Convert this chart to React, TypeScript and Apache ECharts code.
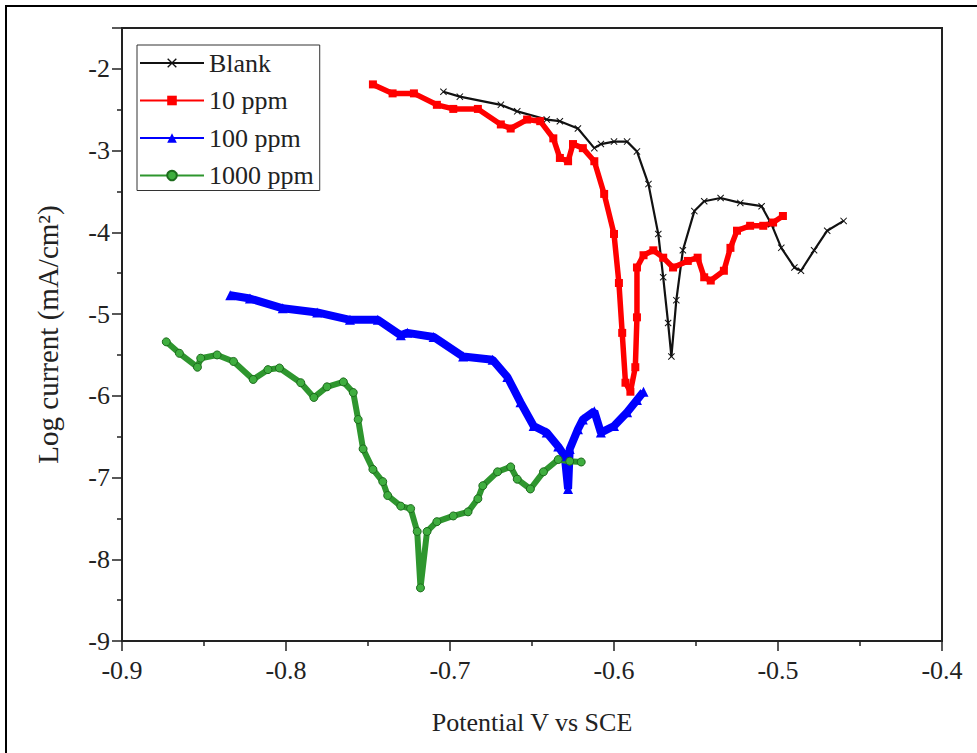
import React, { useEffect, useRef } from "react";
import * as echarts from "echarts";

// Potential (V vs SCE) and log current (mA/cm2)
const blankX = [-0.704, -0.694, -0.669, -0.659, -0.641, -0.633, -0.622, -0.612, -0.608, -0.6, -0.592, -0.586, -0.579, -0.573, -0.57, -0.567, -0.565, -0.562, -0.558, -0.551, -0.545, -0.535, -0.523, -0.51, -0.504, -0.498, -0.49, -0.486, -0.478, -0.47, -0.46];
const blankY = [-2.28, -2.34, -2.44, -2.52, -2.62, -2.64, -2.73, -2.97, -2.92, -2.89, -2.89, -3.01, -3.41, -4.02, -4.55, -5.11, -5.52, -4.83, -4.22, -3.74, -3.62, -3.58, -3.64, -3.68, -3.9, -4.19, -4.43, -4.47, -4.22, -3.98, -3.86];

const ppm10X = [-0.747, -0.735, -0.722, -0.708, -0.698, -0.683, -0.669, -0.663, -0.653, -0.645, -0.637, -0.633, -0.628, -0.625, -0.619, -0.612, -0.606, -0.6, -0.597, -0.595, -0.593, -0.59, -0.587, -0.586, -0.586, -0.582, -0.576, -0.57, -0.564, -0.555, -0.549, -0.545, -0.541, -0.533, -0.529, -0.525, -0.517, -0.509, -0.503, -0.497];
const ppm10Y = [-2.19, -2.3, -2.3, -2.44, -2.49, -2.49, -2.68, -2.73, -2.62, -2.64, -2.85, -3.09, -3.13, -2.92, -2.97, -3.13, -3.53, -4.02, -4.62, -5.23, -5.84, -5.95, -5.65, -5.04, -4.43, -4.28, -4.22, -4.31, -4.43, -4.35, -4.31, -4.55, -4.59, -4.47, -4.19, -3.98, -3.92, -3.92, -3.88, -3.8];

const ppm100X = [-0.834, -0.822, -0.802, -0.781, -0.761, -0.744, -0.73, -0.726, -0.71, -0.692, -0.674, -0.665, -0.657, -0.649, -0.641, -0.634, -0.63, -0.628, -0.627, -0.622, -0.619, -0.612, -0.608, -0.6, -0.592, -0.586, -0.582];
const ppm100Y = [-4.77, -4.81, -4.93, -4.98, -5.07, -5.07, -5.26, -5.23, -5.28, -5.52, -5.56, -5.77, -6.08, -6.37, -6.45, -6.62, -6.74, -7.14, -6.65, -6.41, -6.29, -6.19, -6.45, -6.37, -6.2, -6.05, -5.95];

const ppm1000X = [-0.873, -0.865, -0.854, -0.852, -0.842, -0.832, -0.82, -0.811, -0.804, -0.791, -0.783, -0.775, -0.765, -0.759, -0.756, -0.753, -0.747, -0.741, -0.738, -0.73, -0.724, -0.72, -0.718, -0.714, -0.708, -0.698, -0.689, -0.683, -0.68, -0.671, -0.663, -0.659, -0.651, -0.643, -0.634, -0.627, -0.62];
const ppm1000Y = [-5.34, -5.48, -5.65, -5.54, -5.5, -5.58, -5.8, -5.68, -5.66, -5.84, -6.02, -5.89, -5.83, -5.96, -6.29, -6.65, -6.9, -7.05, -7.22, -7.35, -7.38, -7.66, -8.35, -7.66, -7.54, -7.47, -7.42, -7.26, -7.1, -6.93, -6.87, -7.02, -7.14, -6.93, -6.78, -6.8, -6.81];

const seriesNames = ["Blank", "10 ppm", "100 ppm", "1000 ppm"];
const yTickLabels = [-9, -8, -7, -6, -5, -4, -3, -2];

const pairs = (xs: number[], ys: number[]) => xs.map((x, i) => [x, ys[i]]);

const FONT = "'Liberation Serif', 'Times New Roman', serif";
const crossPath =
  "path://M0,1L1,0L5,4L9,0L10,1L6,5L10,9L9,10L5,6L1,10L0,9L4,5Z";

export default function App() {
  const ref = useRef<HTMLDivElement>(null);
  useEffect(() => {
    if (!ref.current) return;
    const chart = echarts.init(ref.current, undefined, { renderer: "svg" });
    chart.setOption({
      animation: false,
      backgroundColor: "#ffffff",
      graphic: [
        {
          type: "rect",
          shape: { x: 6, y: 6, width: 990, height: 770 },
          style: { fill: "none", stroke: "#000", lineWidth: 2 },
          silent: true,
        },
      ],
      grid: {
        left: 122,
        right: 35,
        top: 28,
        bottom: 112,
        show: true,
        borderColor: "#222",
        borderWidth: 2,
      },
      legend: {
        orient: "vertical",
        left: 137,
        top: 45,
        data: seriesNames,
        itemWidth: 64,
        itemHeight: 12,
        itemGap: 11.5,
        padding: [5, 6, 2, 2],
        borderColor: "#333",
        borderWidth: 1,
        lineStyle: { width: 2 },
        textStyle: { fontFamily: FONT, fontSize: 26, color: "#222", lineHeight: 26 },
      },
      xAxis: {
        type: "value",
        min: -0.9,
        max: -0.4,
        interval: 0.1,
        name: "Potential V vs SCE",
        nameLocation: "middle",
        nameGap: 68,
        nameTextStyle: { fontFamily: FONT, fontSize: 26, color: "#222" },
        axisLine: { show: true, onZero: false, lineStyle: { color: "#222", width: 2 } },
        axisTick: { show: true, length: 10, lineStyle: { color: "#222", width: 1.5 } },
        minorTick: { show: true, splitNumber: 2, length: 5, lineStyle: { color: "#222", width: 1.5 } },
        axisLabel: {
          fontFamily: FONT,
          fontSize: 26,
          color: "#222",
          margin: 16,
          formatter: (v: number) => v.toFixed(1),
        },
        splitLine: { show: false },
      },
      yAxis: {
        type: "value",
        min: -9,
        max: -1.5,
        interval: 1,
        name: "Log current (mA/cm²)",
        nameLocation: "middle",
        nameGap: 60,
        nameRotate: 90,
        nameTextStyle: { fontFamily: FONT, fontSize: 29, color: "#222" },
        axisLine: { show: true, onZero: false, lineStyle: { color: "#222", width: 2 } },
        axisTick: { show: true, length: 10, lineStyle: { color: "#222", width: 1.5 } },
        minorTick: { show: true, splitNumber: 2, length: 5, lineStyle: { color: "#222", width: 1.5 } },
        axisLabel: {
          fontFamily: FONT,
          fontSize: 26,
          color: "#222",
          margin: 12,
          formatter: (v: number) => (yTickLabels.includes(v) ? String(v) : ""),
        },
        splitLine: { show: false },
      },
      series: [
        {
          name: seriesNames[0],
          type: "line",
          data: pairs(blankX, blankY),
          symbol: crossPath,
          symbolSize: 7,
          showAllSymbol: true,
          itemStyle: { color: "#111" },
          lineStyle: { color: "#111", width: 2.2 },
        },
        {
          name: seriesNames[1],
          type: "line",
          data: pairs(ppm10X, ppm10Y),
          symbol: "rect",
          symbolSize: 8,
          showAllSymbol: true,
          itemStyle: { color: "#ff0000" },
          lineStyle: { color: "#ff0000", width: 5.5 },
        },
        {
          name: seriesNames[2],
          type: "line",
          data: pairs(ppm100X, ppm100Y),
          symbol: "triangle",
          symbolSize: 10,
          showAllSymbol: true,
          itemStyle: { color: "#0000ff" },
          lineStyle: { color: "#0000ff", width: 8 },
        },
        {
          name: seriesNames[3],
          type: "line",
          data: pairs(ppm1000X, ppm1000Y),
          symbol: "circle",
          symbolSize: 8,
          showAllSymbol: true,
          itemStyle: { color: "#3fae3f", borderColor: "#1d6b1d", borderWidth: 1 },
          lineStyle: { color: "#2e962e", width: 6 },
        },
      ],
    });
    return () => chart.dispose();
  }, []);
  return (
    <div
      ref={ref}
      style={{ position: "absolute", left: 0, top: 0, width: 977, height: 753 }}
    />
  );
}
